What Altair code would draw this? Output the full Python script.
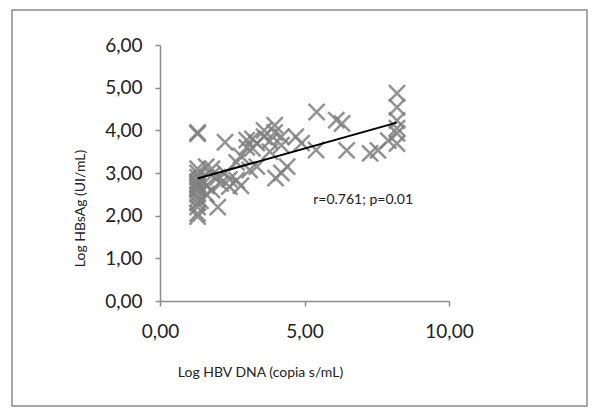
import altair as alt
import pandas as pd

# Scatter data (Log HBV DNA, Log HBsAg)
hbv_dna = [1.3, 1.3, 1.3, 1.3, 1.3, 1.3, 1.3, 1.3, 1.3, 1.3, 1.3, 1.3, 1.3, 1.3, 1.3, 1.3,
           1.4, 1.4, 1.6, 1.6, 1.6, 1.8, 1.8, 1.8, 2.0, 2.0, 2.1, 2.25, 2.25, 2.4, 2.4,
           2.65, 2.65, 2.8, 2.8, 3.0, 3.0, 3.1, 3.2, 3.2, 3.35, 3.35, 3.6, 3.6, 3.8, 3.8,
           3.97, 3.97, 4.0, 4.2, 4.2, 4.2, 4.4, 4.7, 4.9, 5.42, 5.4, 6.1, 6.3, 6.46,
           7.27, 7.54, 7.9, 8.2, 8.2, 8.2, 8.2, 8.2, 8.2]
hbsag = [3.95, 3.92, 3.1, 3.0, 2.9, 2.8, 2.7, 2.6, 2.5, 2.4, 2.3, 2.2, 2.05, 1.98, 2.65, 2.75,
         2.35, 2.85, 3.15, 2.5, 2.7, 3.1, 2.95, 2.6, 2.2, 2.9, 2.75, 3.72, 3.0, 2.68, 2.85,
         2.83, 3.25, 3.4, 2.7, 3.77, 3.6, 3.07, 3.58, 3.8, 3.15, 3.7, 4.0, 3.85, 3.75, 3.5,
         4.12, 3.95, 2.88, 3.0, 3.85, 3.65, 3.15, 3.85, 3.7, 4.43, 3.54, 4.24, 4.16, 3.53,
         3.46, 3.53, 3.76, 4.87, 4.54, 4.23, 3.93, 3.69, 4.05]

# Trend line end points
fit_x = [1.3, 8.19]
fit_y = [2.87, 4.18]

# Annotation
note_x = [5.3]
note_y = [2.36]
note_text = ["r=0.761; p=0.01"]

x_ticks = [0, 5, 10]
y_ticks = [0, 1, 2, 3, 4, 5, 6]

pts = pd.DataFrame({"dna": hbv_dna, "hbsag": hbsag})
fit = pd.DataFrame({"dna": fit_x, "hbsag": fit_y})
note = pd.DataFrame({"dna": note_x, "hbsag": note_y, "t": note_text})

FONT = "Lato"
label_expr = "replace(format(datum.value, '.2f'), '.', ',')"

xscale = alt.Scale(domain=[0, 10], nice=False, zero=False)
yscale = alt.Scale(domain=[0, 6], nice=False, zero=False)

xaxis = alt.Axis(values=x_ticks, labelExpr=label_expr, grid=False, labelFlush=False,
                 title="Log HBV DNA (copia s/mL)", titleFontSize=14, titleFontWeight="normal",
                 titleFont=FONT, titleColor="#222", titleX=100, titleY=71,
                 titleBaseline="middle", titleAnchor="middle", titleAlign="center",
                 labelFont=FONT, labelFontSize=19, labelColor="#222", labelPadding=16,
                 domainColor="#8c8c8c", domainWidth=1.5, tickColor="#8c8c8c",
                 tickWidth=1.5, tickSize=5, zindex=0)
yaxis = alt.Axis(values=y_ticks, labelExpr=label_expr, grid=False, labelFlush=False,
                 title="Log HBsAg (UI/mL)", titleFontSize=14, titleFontWeight="normal",
                 titleFont=FONT, titleColor="#222", titleX=-80, titleY=163,
                 titleAngle=270, titleBaseline="middle", titleAlign="center",
                 labelFont=FONT, labelFontSize=19, labelColor="#222", labelPadding=13,
                 domainColor="#8c8c8c", domainWidth=1.5, tickColor="#8c8c8c",
                 tickWidth=1.5, tickSize=5, zindex=0)

frame = alt.Chart(pd.DataFrame({"k": [0]})).mark_rect(
    fillOpacity=0, stroke="#8a8a8a", strokeWidth=1.5
).encode(x=alt.value(-148), x2=alt.value(427), y=alt.value(-35), y2=alt.value(361))

points = alt.Chart(pts).mark_point(
    shape="M-1,-1L1,1M1,-1L-1,1", size=260, strokeWidth=2.5,
    color="#808080", opacity=0.85, filled=False
).encode(
    x=alt.X("dna:Q", scale=xscale, axis=xaxis),
    y=alt.Y("hbsag:Q", scale=yscale, axis=yaxis),
)

line = alt.Chart(fit).mark_line(color="black", strokeWidth=2).encode(
    x=alt.X("dna:Q", scale=xscale),
    y=alt.Y("hbsag:Q", scale=yscale),
)

text = alt.Chart(note).mark_text(
    align="left", baseline="middle", font=FONT, fontSize=14, color="#222"
).encode(
    x=alt.X("dna:Q", scale=xscale),
    y=alt.Y("hbsag:Q", scale=yscale),
    text="t:N",
)

chart = alt.layer(frame, points, line, text).properties(
    width=289, height=256,
    padding={"left": 152, "top": 37, "right": 139, "bottom": 106},
    autosize=alt.AutoSizeParams(type="none"),
    background="white",
).configure_view(stroke=None)

chart.save("out.html", embed_options={"renderer": "svg", "actions": False})
